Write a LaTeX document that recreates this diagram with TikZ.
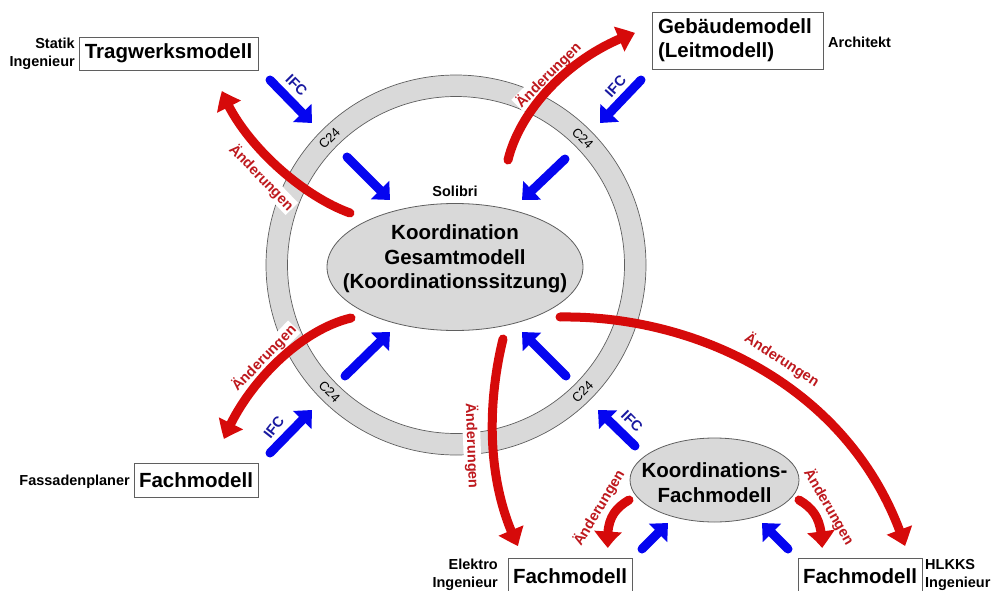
\documentclass[tikz,border=0pt]{standalone}
\usepackage{fontspec}
\setmainfont{Liberation Sans}
\usetikzlibrary{arrows.meta,bending,shapes.geometric}

\definecolor{ringgrey}{RGB}{217,217,217}
\definecolor{edgegrey}{RGB}{95,95,95}
\definecolor{arrred}{RGB}{214,10,10}
\definecolor{txtred}{RGB}{190,25,30}
\definecolor{arrblue}{RGB}{5,5,240}
\definecolor{txtblue}{RGB}{25,25,160}

\begin{document}
\begin{tikzpicture}[x=1pt,y=-1pt,
  box/.style={draw=edgegrey, line width=0.8pt, fill=white, inner sep=0pt,
    font=\fontsize{20.5}{24}\selectfont\bfseries},
  small/.style={font=\fontsize{14.5}{18}\selectfont\bfseries, inner sep=0pt},
  redlbl/.style={small, text=txtred, fill=white, inner sep=1pt},
  ifclbl/.style={small, text=txtblue},
  c24lbl/.style={font=\fontsize{13}{15}\selectfont, inner sep=0pt},
  bubble/.style={ellipse, draw=edgegrey, line width=0.8pt, fill=ringgrey, inner sep=0pt},
  bluearr/.style={draw=arrblue, line width=9pt, line cap=round,
    -{Triangle[width=25pt,length=14pt]}},
  redarr/.style={draw=arrred, line width=9pt, line cap=round,
    -{Triangle[width=26pt,length=17pt,bend]}},
]
\useasboundingbox (0,0) rectangle (993,591);

% C24 ring
\path[draw=edgegrey, line width=0.7pt, fill=ringgrey, even odd rule]
  (456,265) circle[radius=190pt] (456,265) circle[radius=168.5pt];
\node[c24lbl, rotate=45]  (c24a) at (329.4,138.4) {C24};
\node[c24lbl, rotate=-45] (c24b) at (582.6,138.4) {C24};
\node[c24lbl, rotate=-45] (c24c) at (329.4,391.6) {C24};
\node[c24lbl, rotate=45]  (c24d) at (582.6,391.6) {C24};

% central coordination model
\node[bubble, minimum width=256pt, minimum height=127pt] (gesamt) at (455,267) {};
\node[font=\fontsize{20.5}{24.5}\selectfont\bfseries, align=center, inner sep=0pt]
  (gesamttxt) at (455,259) {Koordination\\Gesamtmodell\\(Koordinationssitzung)};
\node[small] (solibri) at (455,191) {Solibri};

% discipline coordination model
\node[bubble, minimum width=169pt, minimum height=84pt] (fachk) at (714.5,480) {};
\node[font=\fontsize{20.5}{25}\selectfont\bfseries, align=center, inner sep=0pt]
  (fachktxt) at (714.5,483) {Koordinations-\\Fachmodell};

% model boxes
\node[box, minimum width=179pt, minimum height=33pt] (trag) at (168.5,53.5) {Tragwerksmodell};
\node[box, minimum width=171pt, minimum height=57pt, align=left, text width=159pt,
  inner xsep=6pt] (geb) at (737.5,40.5) {Gebäudemodell\\(Leitmodell)};
\node[box, minimum width=124pt, minimum height=34pt] (fass) at (196,480) {Fachmodell};
\node[box, minimum width=124pt, minimum height=36pt] (elek) at (570,576) {Fachmodell};
\node[box, minimum width=124pt, minimum height=36pt] (hlkks) at (860,576) {Fachmodell};

% roles
\node[small, align=right, anchor=east] (statik) at (75,54) {Statik\\Ingenieur};
\node[small, anchor=west] (archi) at (828,42) {Architekt};
\node[small, anchor=east] (fassl) at (130,482) {Fassadenplaner};
\node[small, align=right, anchor=east] (elekl) at (498,575) {Elektro\\Ingenieur};
\node[small, align=left, anchor=west] (hlkksl) at (925,575) {HLKKS\\Ingenieur};

% change labels
\node[redlbl, rotate=-46] (ae1) at (261.5,177.5) {Änderungen};
\node[redlbl, rotate=45]  (ae2) at (548.5,75) {Änderungen};
\node[redlbl, rotate=46]  (ae3) at (264,358) {Änderungen};
\node[redlbl, rotate=-88] (ae4) at (472,446) {Änderungen};
\node[redlbl, rotate=-33] (ae5) at (782,360) {Änderungen};
\node[redlbl, rotate=59]  (ae6) at (599,508) {Änderungen};
\node[redlbl, rotate=-60] (ae7) at (829,507) {Änderungen};

% IFC labels
\node[ifclbl, rotate=-45] (ifc1) at (296.5,85) {IFC};
\node[ifclbl, rotate=48]  (ifc2) at (615.5,86.5) {IFC};
\node[ifclbl, rotate=52]  (ifc3) at (274,427) {IFC};
\node[ifclbl, rotate=-45] (ifc4) at (632,421) {IFC};

% arrow end points
\coordinate (b1s) at (347,157);  \coordinate (b1e) at (390,200);
\coordinate (b2s) at (565,159);  \coordinate (b2e) at (522,200);
\coordinate (b3s) at (345,376);  \coordinate (b3e) at (390,332);
\coordinate (b4s) at (566,376);  \coordinate (b4e) at (522,332);
\coordinate (i1s) at (270,80);   \coordinate (i1e) at (312,123);
\coordinate (i2s) at (641,80);   \coordinate (i2e) at (600,123);
\coordinate (i3s) at (270,453);  \coordinate (i3e) at (312,410);
\coordinate (i4s) at (635,446);  \coordinate (i4e) at (598,410);
\coordinate (k1s) at (642,549);  \coordinate (k1e) at (668,523);
\coordinate (k2s) at (788,549);  \coordinate (k2e) at (762,523);

\coordinate (r1s) at (350,213);  \coordinate (r1e) at (222,91);
\coordinate (r2s) at (508,160);  \coordinate (r2e) at (635,33);
\coordinate (r3s) at (351,318);  \coordinate (r3e) at (224,439);
\coordinate (r4s) at (503,339);  \coordinate (r4e) at (518,546);
\coordinate (r5s) at (560,317);  \coordinate (r5e) at (905,546);
\coordinate (r6s) at (629,500);  \coordinate (r6e) at (608,548);
\coordinate (r7s) at (799,500);  \coordinate (r7e) at (822,548);

% IFC exchange arrows
\foreach \a in {b1,b2,b3,b4,i1,i2,i3,i4,k1,k2}
  \draw[bluearr] (\a s) -- (\a e);

% change arrows
\draw[redarr] (r1s) .. controls (300,195) and (240,140) .. (r1e);
\draw[redarr] (r2s) .. controls (520,110) and (570,55) .. (r2e);
\draw[redarr] (r3s) .. controls (300,330) and (245,385) .. (r3e);
\draw[redarr] (r4s) .. controls (488,400) and (485,480) .. (r4e);
\draw[redarr] (r5s) .. controls (700,315) and (855,390) .. (r5e);
\draw[redarr] (r6s) .. controls (612,510) and (606,522) .. (r6e);
\draw[redarr] (r7s) .. controls (816,510) and (822,522) .. (r7e);
\end{tikzpicture}
\end{document}
